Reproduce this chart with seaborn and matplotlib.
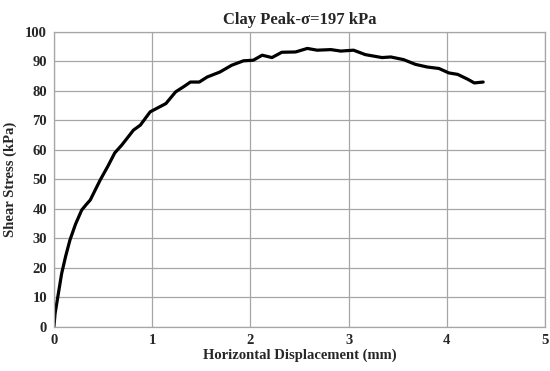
import matplotlib

matplotlib.use("Agg")
import matplotlib.pyplot as plt
import seaborn as sns
import pandas as pd

# displacement (mm) and shear stress (kPa)
displacement = [0.0, 0.012, 0.034, 0.079, 0.12, 0.163, 0.22, 0.283, 0.33, 0.37,
                0.47, 0.55, 0.62, 0.69, 0.81, 0.88, 0.98, 1.14, 1.24, 1.32, 1.39,
                1.48, 1.56, 1.69, 1.81, 1.93, 2.03, 2.12, 2.22, 2.32, 2.46, 2.58,
                2.68, 2.82, 2.92, 3.05, 3.17, 3.34, 3.43, 3.56, 3.68, 3.80, 3.92,
                4.02, 4.11, 4.21, 4.28, 4.37]
shear_stress = [0.0, 4.5, 9.0, 18.1, 24.0, 29.4, 34.8, 39.6, 41.5, 43.0,
                49.7, 54.5, 59.0, 61.6, 66.7, 68.4, 72.9, 75.7, 79.7, 81.4, 83.0,
                83.0, 84.7, 86.4, 88.7, 90.2, 90.4, 92.1, 91.3, 93.1, 93.2, 94.4,
                93.8, 94.0, 93.5, 93.8, 92.3, 91.3, 91.5, 90.6, 89.0, 88.1, 87.6,
                86.1, 85.6, 84.0, 82.7, 83.0]
x_ticks = [0, 1, 2, 3, 4, 5]
y_ticks = list(range(0, 101, 10))

sns.set_style("white")
plt.rcParams["font.family"] = ["Liberation Serif", "DejaVu Serif"]
plt.rcParams["font.weight"] = "bold"

df = pd.DataFrame({"disp": displacement, "stress": shear_stress})

fig = plt.figure(figsize=(5.5, 3.71), dpi=100)
ax = fig.add_axes([0.098, 0.119, 0.893, 0.795])

sns.lineplot(data=df, x="disp", y="stress", color="black", linewidth=2.3,
             sort=False, ax=ax)

ax.set_xlim(0, 5)
ax.set_ylim(0, 100)
ax.set_xticks(x_ticks)
ax.set_yticks(y_ticks)
ax.grid(True, color="#a6a6a6", linewidth=0.9)
ax.set_axisbelow(True)
for side in ax.spines.values():
    side.set_color("#a6a6a6")
    side.set_linewidth(0.9)
ax.tick_params(axis="both", length=0, labelsize=10.5, pad=5, colors="#262626")
for lab in ax.get_xticklabels() + ax.get_yticklabels():
    lab.set_fontweight("bold")

ax.set_xlabel("Horizontal Displacement (mm)", fontsize=10.5, fontweight="bold",
              labelpad=1)
ax.set_ylabel("Shear Stress (kPa)", fontsize=10.5, fontweight="bold", labelpad=6)
ax.set_title("Clay Peak-σ=197 kPa", fontsize=12, fontweight="bold", pad=6)

fig.savefig("out.png", dpi=100, facecolor="w")
plt.close()
